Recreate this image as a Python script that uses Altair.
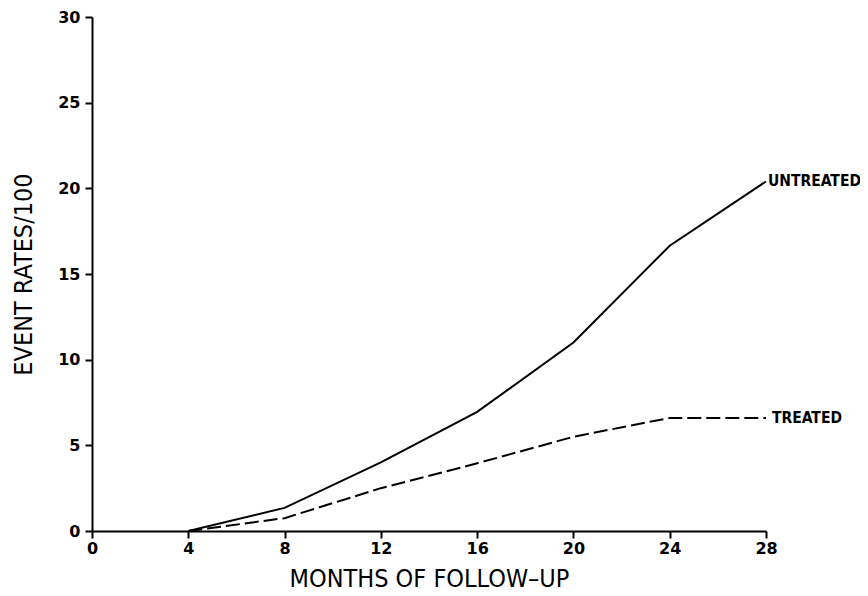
import altair as alt
import pandas as pd

months = [4, 8, 12, 16, 20, 24, 28]
untreated = [0.0, 1.35, 4.0, 6.95, 11.0, 16.65, 20.4]
treated = [0.0, 0.75, 2.5, 3.95, 5.5, 6.6, 6.6]

label_names = ["UNTREATED", "TREATED"]
label_months = [28, 28]
label_values = [20.4, 6.6]

rows = []
for m, u, t in zip(months, untreated, treated):
    rows.append({"month": m, "rate": u, "group": "UNTREATED"})
    rows.append({"month": m, "rate": t, "group": "TREATED"})
df = pd.DataFrame(rows)

lab = pd.DataFrame({"month": label_months, "rate": label_values, "label": label_names})

xscale = alt.Scale(domain=[0, 28], nice=False, zero=True)
yscale = alt.Scale(domain=[0, 30], nice=False)

xaxis = alt.Axis(values=[0, 4, 8, 12, 16, 20, 24, 28], title="MONTHS OF FOLLOW–UP",
                 grid=False, tickSize=7, labelPadding=2, titlePadding=10, labelFlush=False)
yaxis = alt.Axis(values=[0, 5, 10, 15, 20, 25, 30], title="EVENT RATES/100",
                 grid=False, tickSize=7, labelPadding=5, titlePadding=21, labelFlush=False)

unt = alt.Chart(df[df.group == "UNTREATED"]).mark_line(color="black", strokeWidth=2).encode(
    x=alt.X("month:Q", scale=xscale, axis=xaxis),
    y=alt.Y("rate:Q", scale=yscale, axis=yaxis),
)
trt = alt.Chart(df[df.group == "TREATED"]).mark_line(color="black", strokeWidth=2,
                                                     strokeDash=[14, 5]).encode(
    x=alt.X("month:Q", scale=xscale),
    y=alt.Y("rate:Q", scale=yscale),
)
t1 = alt.Chart(lab[lab.label == "UNTREATED"]).mark_text(
    align="left", baseline="middle", dx=2, font="DejaVu Sans Condensed",
    fontWeight="bold", fontSize=15.5, color="black").encode(
    x=alt.X("month:Q", scale=xscale), y=alt.Y("rate:Q", scale=yscale), text="label:N")
t2 = alt.Chart(lab[lab.label == "TREATED"]).mark_text(
    align="left", baseline="middle", dx=6, font="DejaVu Sans Condensed",
    fontWeight="bold", fontSize=15.5, color="black").encode(
    x=alt.X("month:Q", scale=xscale), y=alt.Y("rate:Q", scale=yscale), text="label:N")

chart = alt.layer(unt, trt, t1, t2).properties(
    width=674, height=514,
    autosize=alt.AutoSizeParams(type="none"),
    padding={"left": 84, "top": 9, "right": 94, "bottom": 60},
    background="white",
).configure_view(stroke=None).configure_axis(
    domainColor="black", domainWidth=2, tickColor="black", tickWidth=2,
    labelFont="DejaVu Sans", labelFontWeight="bold", labelFontSize=16, labelColor="black",
    titleFont="DejaVu Sans Condensed", titleFontWeight="normal", titleFontSize=25,
    titleColor="black",
)

chart.save("out.html", embed_options={"renderer": "svg", "actions": False})
